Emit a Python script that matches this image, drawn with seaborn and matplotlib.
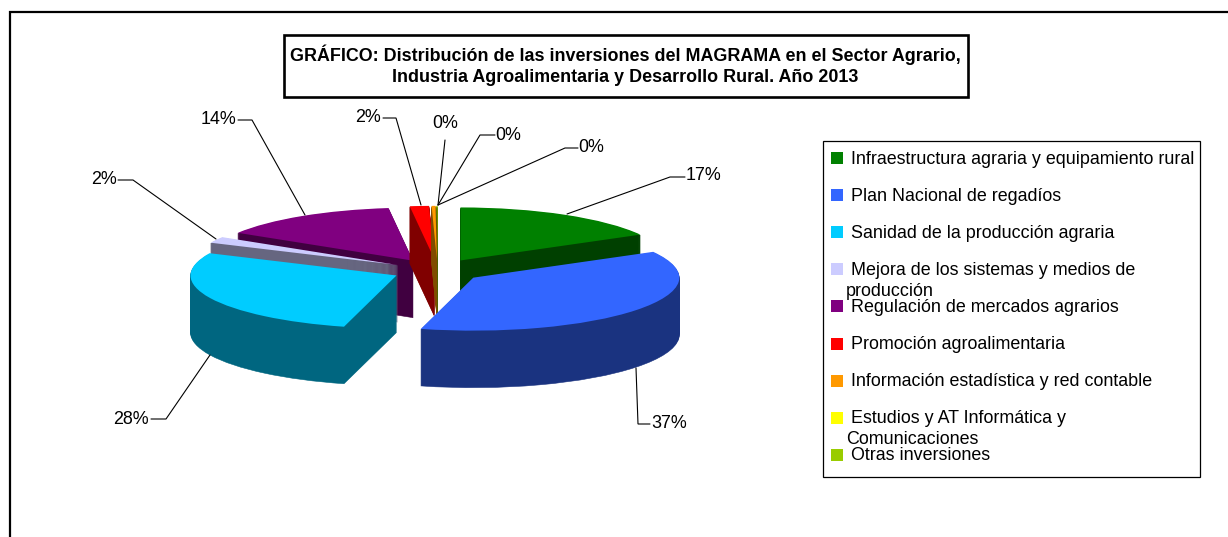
import matplotlib
matplotlib.use("Agg")
import matplotlib.pyplot as plt
from matplotlib.patches import Rectangle
import seaborn as sns

# ---- data ----
categories = ["Infraestructura agraria y equipamiento rural",
              "Plan Nacional de regadíos",
              "Sanidad de la producción agraria",
              "Mejora de los sistemas y medios de\nproducción",
              "Regulación de mercados agrarios",
              "Promoción agroalimentaria",
              "Información estadística y red contable",
              "Estudios y AT Informática y\nComunicaciones",
              "Otras inversiones"]
values = [16.9, 37.2, 27.8, 1.9, 14.3, 1.5, 0.3, 0.05, 0.05]
title_text = ("GRÁFICO: Distribución de las inversiones del MAGRAMA en el Sector Agrario,\n"
              "Industria Agroalimentaria y Desarrollo Rural. Año 2013")

# ---- style ----
top_colors = ["#008000", "#3366FF", "#00CCFF", "#CCCCFF", "#800080",
              "#FF0000", "#FF9900", "#FFFF00", "#99CC00"]
side_colors = ["#004000", "#1A3380", "#006680", "#666680", "#400040",
               "#800000", "#804C00", "#808000", "#4C6600"]
paint_order = [4, 5, 7, 8, 6, 0, 3, 2, 1]   # back to front
EXPLODE = 0.22
RX, RY, DEPTH = 206.0, 53.0, 57
CX, CY = 437.5, 270.5
W, H = 1228, 537
TEXT_SIZE = 12.9

sns.set_theme(style="white")
plt.rcParams["font.family"] = ["Liberation Sans", "DejaVu Sans"]
top_pal = sns.color_palette(top_colors)
side_pal = sns.color_palette(side_colors)

fig = plt.figure(figsize=(W / 100, H / 100), dpi=100, facecolor="white")
ax = fig.add_axes([0, 0, 1, 1])

# extruded pie: a stack of pies, dark layers below, bright layer on top
for dy in range(DEPTH, -1, -1):
    side = dy > 0
    wedges, _ = ax.pie(values, explode=[EXPLODE] * len(values), startangle=90,
                       counterclock=False, radius=1, center=(0, -dy / RY),
                       colors=(side_pal if side else top_pal),
                       wedgeprops=dict(linewidth=0),
                       normalize=True)
    for i, w in enumerate(wedges):
        w.set_zorder(paint_order.index(i) * 1000 + (DEPTH - dy))
        if side:
            w.set_edgecolor(w.get_facecolor())
            w.set_linewidth(0.4)
ax.set_aspect("auto")
ax.set_xlim(-CX / RX, (W - CX) / RX)
ax.set_ylim(-(H - CY) / RY, CY / RY)
ax.axis("off")

# overlay in pixel-like coordinates for page furniture
ov = fig.add_axes([0, 0, 1, 1], facecolor="none")
ov.set_xlim(0, W)
ov.set_ylim(H, 0)
ov.axis("off")

# outer page frame
ov.plot([9.5, 9.5, W], [H, 11.5, 11.5], color="black", lw=1.6, solid_joinstyle="miter")

# title box
ov.add_patch(Rectangle((284, 34.5), 684, 62.5, fc="white", ec="black", lw=1.9))
ov.text(625, 65.5, title_text, ha="center", va="center", fontsize=TEXT_SIZE,
        fontweight="bold", color="black", linespacing=1.3)

# leader lines and percentage labels
pct = [f"{round(v)}%" for v in values]
leaders = [([567, 670, 685], [214, 177, 177], 686, 176, "left"),
           ([636, 638, 650], [368, 424, 424], 651, 424, "left"),
           ([210, 166, 151], [355, 419, 419], 149, 419, "right"),
           ([216, 133, 118], [239, 180, 180], 117, 179, "right"),
           ([305, 252, 238], [215, 120, 120], 236, 120, "right"),
           ([421, 396, 383], [205, 118, 118], 381, 118, "right"),
           ([438, 445, 445], [205, 140, 140], 445, 124, "center"),
           ([438, 480, 495], [205, 135, 135], 495, 135, "left"),
           ([438, 565, 578], [205, 148, 148], 578, 148, "left")]
for label, (lx, ly, tx, ty, ha) in zip(pct, leaders):
    ov.plot(lx, ly, color="black", lw=0.8, solid_joinstyle="miter", zorder=5)
    ov.text(tx, ty, label, ha=ha, va="center", fontsize=TEXT_SIZE, color="black")

# legend
ov.add_patch(Rectangle((823, 141), 377, 336, fc="white", ec="black", lw=0.9))
for i, (cat, col) in enumerate(zip(categories, top_pal)):
    y = 158 + i * 37.1
    ov.add_patch(Rectangle((830.5, y - 6), 12, 12, fc=col, ec="none"))
    lines = cat.split("\n")
    ov.text(851, y + 1, lines[0], ha="left", va="center", fontsize=TEXT_SIZE, color="black")
    if len(lines) > 1:
        ov.text(846, y + 22, lines[1], ha="left", va="center", fontsize=TEXT_SIZE, color="black")

fig.savefig("out.png", dpi=100, facecolor="white")
